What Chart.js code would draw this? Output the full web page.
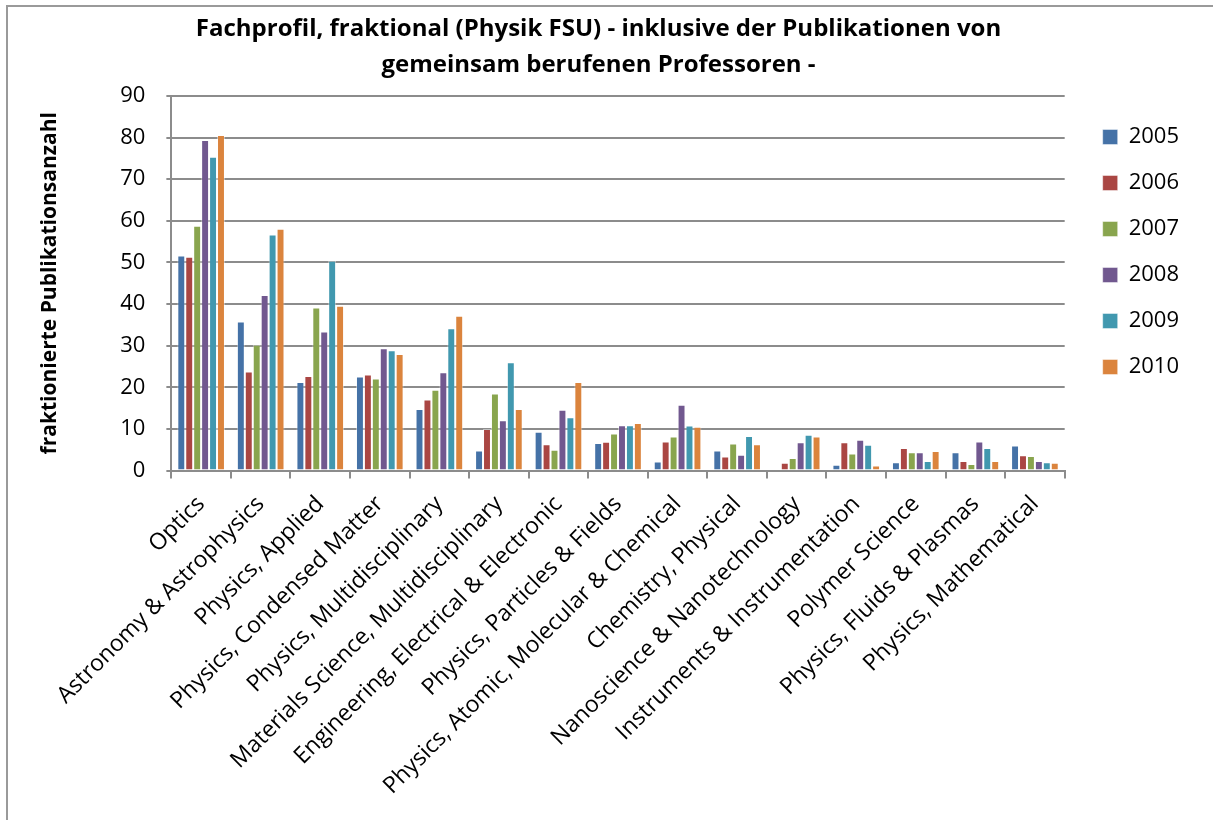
<!DOCTYPE html>
<html lang="de">
<head>
    <meta charset="UTF-8">
    <title>Fachprofil, fraktional (Physik FSU)</title>
    <script src="https://cdn.jsdelivr.net/npm/chart.js"></script>
    <style>
        html, body {
            margin: 0;
            padding: 0;
            background: #ffffff;
            overflow: hidden;
        }
        .frame {
            position: absolute;
            left: 6px;
            top: 5px;
            width: 1240px;
            height: 840px;
            border: 2px solid #9a9a9a;
        }
        #fachChart {
            position: absolute;
            left: 0;
            top: 0;
        }
    </style>
</head>
<body>

<div class="frame"></div>
<canvas id="fachChart" width="1213" height="820"></canvas>

<script>
    // Fachgebiete (x axis)
    const categories = [
        'Optics',
        'Astronomy & Astrophysics',
        'Physics, Applied',
        'Physics, Condensed Matter',
        'Physics, Multidisciplinary',
        'Materials Science, Multidisciplinary',
        'Engineering, Electrical & Electronic',
        'Physics, Particles & Fields',
        'Physics, Atomic, Molecular & Chemical',
        'Chemistry, Physical',
        'Nanoscience & Nanotechnology',
        'Instruments & Instrumentation',
        'Polymer Science',
        'Physics, Fluids & Plasmas',
        'Physics, Mathematical'
    ];

    // fractional publication counts per year
    const y2005 = [51.7, 35.8, 21.3, 22.6, 14.8, 4.8, 9.3, 6.6, 2.2, 4.8, 0, 1.4, 2.0, 4.4, 6.0];
    const y2006 = [51.4, 23.8, 22.7, 23.1, 17.1, 10.0, 6.3, 6.9, 7.0, 3.4, 1.9, 6.8, 5.4, 2.3, 3.7];
    const y2007 = [58.8, 30.2, 39.2, 22.1, 19.4, 18.5, 5.0, 8.9, 8.2, 6.5, 3.0, 4.1, 4.4, 1.6, 3.5];
    const y2008 = [79.4, 42.2, 33.4, 29.4, 23.6, 12.1, 14.6, 10.9, 15.8, 3.8, 6.8, 7.4, 4.4, 7.0, 2.3];
    const y2009 = [75.4, 56.7, 50.4, 28.9, 34.2, 26.0, 12.8, 10.9, 10.8, 8.3, 8.6, 6.2, 2.3, 5.4, 2.0];
    const y2010 = [80.6, 58.1, 39.6, 28.0, 37.2, 14.8, 21.3, 11.4, 10.5, 6.3, 8.2, 1.2, 4.7, 2.3, 1.9];

    const years = ['2005', '2006', '2007', '2008', '2009', '2010'];
    const series = [y2005, y2006, y2007, y2008, y2009, y2010];
    const colors = ['#4572A7', '#AA4643', '#89A54E', '#71588F', '#4198AF', '#DB843D'];

    const yTicks = { min: 0, max: 90, step: 10 };

    const font = "'Open Sans', 'Noto Sans', sans-serif";
    const axisGray = '#8c8c8c';

    const ctx = document.getElementById('fachChart').getContext('2d');
    new Chart(ctx, {
        type: 'bar',
        data: {
            labels: categories,
            datasets: years.map((year, i) => ({
                label: year,
                data: series[i],
                backgroundColor: colors[i],
                borderColor: 'rgba(255,255,255,0.45)',
                borderWidth: 1,
                barPercentage: 1.0,
                categoryPercentage: 0.8
            }))
        },
        options: {
            responsive: false,
            animation: false,
            layout: {
                padding: { left: 8, right: 24, top: 0, bottom: 8 }
            },
            plugins: {
                title: {
                    display: true,
                    text: [
                        'Fachprofil, fraktional (Physik FSU) - inklusive der Publikationen von',
                        'gemeinsam berufenen Professoren -'
                    ],
                    color: '#000000',
                    font: { family: font, size: 24, weight: 'bold', lineHeight: 1.5 },
                    padding: { top: 11, bottom: 13 }
                },
                legend: {
                    position: 'right',
                    align: 'start',
                    // empty title only used to push the entries down
                    title: {
                        display: true,
                        text: '',
                        padding: { top: 97, bottom: 0 },
                        font: { size: 5, lineHeight: 1 }
                    },
                    labels: {
                        color: '#000000',
                        font: { family: font, size: 22 },
                        boxWidth: 15,
                        boxHeight: 15,
                        padding: 24
                    }
                },
                tooltip: { enabled: false }
            },
            scales: {
                x: {
                    grid: {
                        offset: true,
                        drawOnChartArea: false,
                        color: axisGray,
                        lineWidth: 2,
                        tickLength: 8
                    },
                    border: { color: axisGray, width: 2 },
                    ticks: {
                        color: '#000000',
                        font: { family: font, size: 23 },
                        autoSkip: false,
                        maxRotation: 45,
                        minRotation: 45,
                        padding: 12
                    }
                },
                y: {
                    min: yTicks.min,
                    max: yTicks.max,
                    grid: {
                        color: axisGray,
                        lineWidth: 2,
                        tickLength: 5
                    },
                    border: { color: axisGray, width: 2 },
                    ticks: {
                        stepSize: yTicks.step,
                        color: '#000000',
                        font: { family: font, size: 22 },
                        padding: 21
                    },
                    title: {
                        display: true,
                        text: 'fraktionierte Publikationsanzahl',
                        color: '#000000',
                        font: { family: font, size: 21, weight: 'bold', lineHeight: 1.2 },
                        padding: { top: 29, bottom: 37 }
                    }
                },
                // empty spacer between plot and legend
                gap: {
                    position: 'right',
                    type: 'linear',
                    grid: { display: false },
                    border: { display: false },
                    ticks: { display: false },
                    afterFit: (scale) => { scale.width = 14; }
                }
            }
        }
    });
</script>

</body>
</html>
